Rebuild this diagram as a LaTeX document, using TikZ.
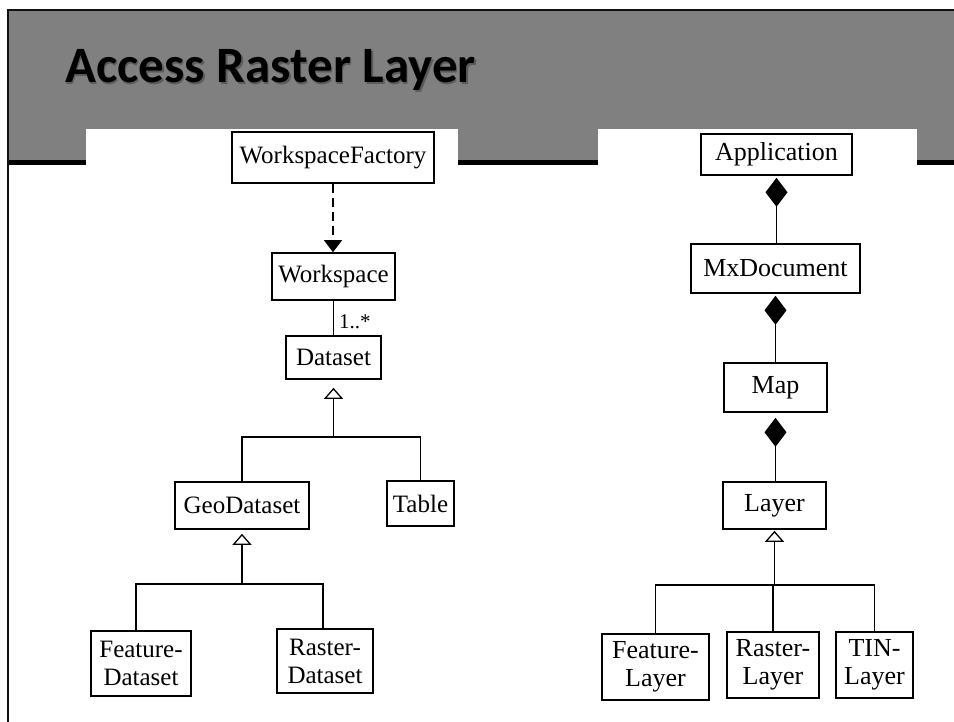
\documentclass[tikz,border=0pt]{standalone}
\usepackage{fontspec}
\setmainfont{Liberation Serif}
\newfontfamily\titlefont{Carlito}
\usetikzlibrary{arrows.meta}

\definecolor{headergray}{RGB}{128,128,128}
\definecolor{framedark}{RGB}{17,17,17}

\begin{document}
\begin{tikzpicture}[x=1pt,y=-1pt,
  umlbox/.style={draw=black, line width=1.6pt, fill=white, inner sep=0pt, align=center},
  sz/.style 2 args={minimum width=#1, minimum height=#2},
  lfont/.style={font=\fontsize{25}{28}\selectfont},
  rfont/.style={font=\fontsize{26}{28}\selectfont},
  conn/.style={draw=black, line width=1.8pt},
  thinconn/.style={draw=black, line width=1.1pt},
  dep/.style={draw=black, line width=1.3pt, dash pattern=on 9pt off 5pt,
    -{Triangle[width=18pt,length=12pt]}},
  gentip/.style={-{Triangle[open,width=19pt,length=11pt,line width=1.3pt]}},
  comptip/.style={{Diamond[width=22pt,length=29pt]}-},
  titletext/.style={anchor=base west, inner sep=0pt,
    font=\titlefont\bfseries\fontsize{51}{53}\selectfont}
]
\useasboundingbox (0,0) rectangle (954,722);
\fill[white] (0,0) rectangle (954,722);

% slide header band with frame
\fill[headergray] (8,10) rectangle (954,160);
\fill[black] (8,160) rectangle (954,165);
\draw[framedark, line width=2pt] (8,722) -- (8,10) -- (954,10);

% white panels carrying the two diagrams
\fill[white] (86,129) rectangle (458,722);
\fill[white] (598,129) rectangle (917,722);

% title with a soft drop shadow
\node[titletext, text=black!70, opacity=0.7] (titleshadow) at (66.5,84.5) {Access Raster Layer};
\node[titletext, text=black] (title) at (65,83) {Access Raster Layer};

% ---------- left diagram: workspaces and datasets ----------
\node[umlbox, lfont, sz={202pt}{51pt}] (wf)  at (333,157.5) {WorkspaceFactory};
\node[umlbox, lfont, sz={123pt}{47pt}] (ws)  at (333.5,276.5) {Workspace};
\node[umlbox, lfont, sz={95pt}{43pt}]  (ds)  at (333.5,357.5) {Dataset};
\node[umlbox, lfont, sz={134pt}{47pt}] (geo) at (242,505.5) {GeoDataset};
\node[umlbox, lfont, sz={67pt}{45pt}]  (tab) at (420.5,503.5) {Table};
\node[umlbox, lfont, sz={100pt}{65pt}] (fd)  at (141,663.5) {Feature-\\Dataset};
\node[umlbox, lfont, sz={96pt}{64pt}]  (rd)  at (325,661) {Raster-\\Dataset};

\draw[dep] (wf.south) -- (wf.south |- ws.north);
\draw[thinconn] (ws.south) -- node[right, pos=0.6, xshift=3pt, inner sep=2pt,
  font=\fontsize{21}{23}\selectfont] (mult) {1..*} (ws.south |- ds.north);

\coordinate (b1) at (ds.south |- 0,437);
\draw[conn, gentip] (b1) -- ([yshift=-8pt]ds.south);
\draw[conn] (geo.north) |- (b1) -| (tab.north);

\coordinate (b2) at (geo.south |- 0,584);
\draw[conn, gentip] (b2) -- ([yshift=-4pt]geo.south);
\draw[conn] ([xshift=-5pt]fd.north) |- (b2) -| ([xshift=-2pt]rd.north);

% ---------- right diagram: application, maps and layers ----------
\node[umlbox, rfont, sz={151pt}{41pt}] (app) at (776.5,154.5) {Application};
\node[umlbox, rfont, sz={169pt}{49pt}] (md)  at (775.5,268.5) {MxDocument};
\node[umlbox, rfont, sz={103pt}{49pt}] (map) at (775.5,387.5) {Map};
\node[umlbox, rfont, sz={103pt}{47pt}] (lay) at (774.5,505.5) {Layer};
\node[umlbox, rfont, sz={107pt}{66pt}] (fl)  at (655.5,667) {Feature-\\Layer};
\node[umlbox, rfont, sz={92pt}{66pt}]  (rl)  at (773,665) {Raster-\\Layer};
\node[umlbox, rfont, sz={77pt}{66pt}]  (tl)  at (874.5,665) {TIN-\\Layer};

\draw[conn, comptip] ([yshift=-2pt]app.south) -- (app.south |- md.north);
\draw[conn, comptip] ([yshift=-2pt]md.south) -- (md.south |- map.north);
\draw[conn, comptip] ([yshift=-5pt]map.south) -- (map.south |- lay.north);

\coordinate (b3) at (lay.south |- 0,585);
\draw[thinconn, line width=1.3pt, gentip] (b3) -- ([yshift=-1pt]lay.south);
\draw[conn] (fl.north) |- (b3) -| (tl.north);
\draw[conn] (rl.north) -- (rl.north |- b3);
\end{tikzpicture}
\end{document}
